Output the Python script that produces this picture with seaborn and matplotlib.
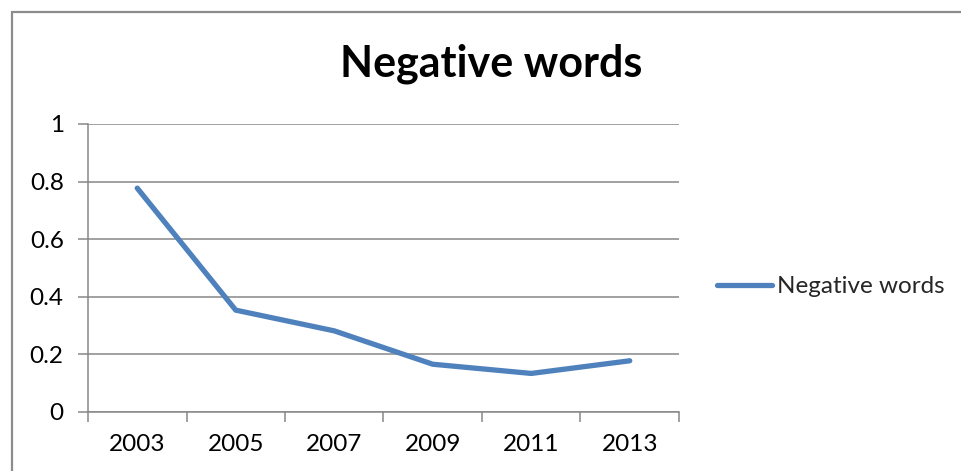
import matplotlib
matplotlib.use("Agg")
import matplotlib.pyplot as plt
from matplotlib.patches import Rectangle
import seaborn as sns
import pandas as pd

years = ["2003", "2005", "2007", "2009", "2011", "2013"]
negative_words = [0.777, 0.353, 0.281, 0.165, 0.133, 0.177]
series_name = "Negative words"
y_ticks = [0, 0.2, 0.4, 0.6, 0.8, 1]
y_tick_labels = ["0", "0.2", "0.4", "0.6", "0.8", "1"]

sns.set_theme(style="white")
plt.rcParams["font.family"] = ["Lato", "DejaVu Sans"]

W, H = 962, 471
fig = plt.figure(figsize=(W / 100, H / 100), dpi=100)
ax = fig.add_axes([88 / W, 1 - 411.7 / H, (679 - 88) / W, (411.7 - 124) / H])

df = pd.DataFrame({"year": years, "value": negative_words})
sns.lineplot(data=df, x="year", y="value", ax=ax, color="#4F81BD",
             linewidth=3.8, solid_capstyle="round", solid_joinstyle="round",
             label=series_name, sort=False)

grid_col = "#878787"
label_size = 17.5
ax.set_ylim(0, 1)
ax.set_xlim(-0.5, len(years) - 0.5)
ax.set_yticks(y_ticks)
ax.set_yticklabels(y_tick_labels)
ax.yaxis.grid(True, color=grid_col, linewidth=1.1)
ax.xaxis.grid(False)
ax.set_xlabel("")
ax.set_ylabel("")

for side in ("top", "right"):
    ax.spines[side].set_visible(False)
for side in ("left", "bottom"):
    ax.spines[side].set_visible(True)
    ax.spines[side].set_color(grid_col)
    ax.spines[side].set_linewidth(1.1)

ax.set_xticks(range(len(years)))
ax.set_xticklabels(years)
ax.set_xticks([i - 0.5 for i in range(len(years) + 1)], minor=True)
ax.tick_params(axis="x", which="major", length=0, pad=16, labelsize=label_size,
               labelcolor="black")
ax.tick_params(axis="x", which="minor", length=7.5, width=1.1,
               color=grid_col, direction="out", bottom=True)
ax.tick_params(axis="y", which="major", length=7.5, width=1.1,
               color=grid_col, direction="out", left=True, pad=10,
               labelsize=label_size, labelcolor="black")

leg = ax.legend(loc="center left", bbox_to_anchor=(1.048, 0.435), frameon=False,
                fontsize=label_size, handlelength=2.26, handletextpad=0.2,
                borderaxespad=0)
for line in leg.get_lines():
    line.set_linewidth(3.8)
    line.set_solid_capstyle("round")

fig.text(491.5 / W, 1 - 77 / H, "Negative words", ha="center", va="baseline",
         fontsize=31, fontweight="bold", color="black")

fig.patches.append(Rectangle((11.5 / W, -0.2), 2, 0.2 + 1 - 11.5 / H,
                             transform=fig.transFigure, fill=False,
                             edgecolor="#8c8c8c", linewidth=1.6))

fig.savefig("out.png", dpi=100)
